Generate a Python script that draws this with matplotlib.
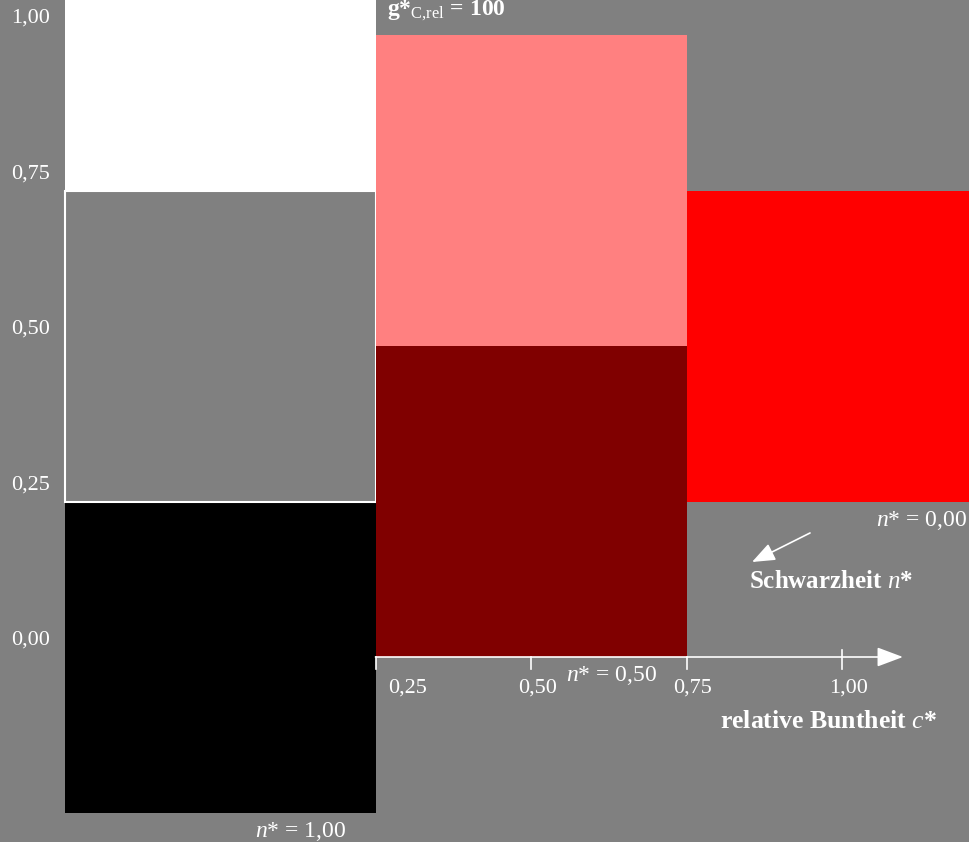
import matplotlib
matplotlib.use("Agg")
import matplotlib.pyplot as plt
from matplotlib.patches import Rectangle

plt.rcParams['font.family'] = ['Liberation Serif', 'DejaVu Serif']
plt.rcParams['mathtext.fontset'] = 'custom'
plt.rcParams['mathtext.rm'] = 'Liberation Serif'
plt.rcParams['mathtext.it'] = 'Liberation Serif:italic'
plt.rcParams['mathtext.bf'] = 'Liberation Serif:bold'

BG = '#808080'

# data: colour patches (chroma centre, bottom, top, colour)
patch_c = [0.0, 0.0, 0.0, 0.5, 0.5, 1.0]
patch_y0 = [-0.25, 0.25, 0.75, 0.0, 0.5, 0.25]
patch_y1 = [0.25, 0.75, 1.25, 0.5, 1.0, 0.75]
patch_col = ['#000000', '#808080', '#ffffff', '#800000', '#ff8080', '#ff0000']
patch_w = 0.5

x_ticks = [0.25, 0.50, 0.75, 1.00]
x_tick_labels = ['0,25', '0,50', '0,75', '1,00']
y_ticks = [1.00, 0.75, 0.50, 0.25, 0.00]
y_tick_labels = ['1,00', '0,75', '0,50', '0,25', '0,00']

W, H = 969, 842
fig = plt.figure(figsize=(W / 100, H / 100), dpi=100, facecolor=BG)
ax = fig.add_axes([0, 0, 1, 1])
ax.set_facecolor(BG)
px = 622.0
ax.set_xlim(-220 / px, (W - 220) / px)
ax.set_ylim((657 - H) / px, 657 / px)
ax.axis('off')

for c, y0, y1, col in zip(patch_c, patch_y0, patch_y1, patch_col):
    ec = 'white' if col == '#808080' else 'none'
    ax.add_patch(Rectangle((c - patch_w / 2, y0), patch_w, y1 - y0,
                           facecolor=col, edgecolor=ec, lw=1.5, zorder=2))

fs_tick = 16
fs_lab = 17
fs_bold = 18.5
# x axis with arrow
ax.annotate('', xy=(1.098, 0), xytext=(0.25, 0),
            arrowprops=dict(arrowstyle='-|>,head_length=1.6,head_width=0.6',
                            color='white', lw=1.2, shrinkA=0, shrinkB=0),
            zorder=5)
for t in x_ticks:
    top = 0.0113 if t == 1.0 else 0.0
    ax.plot([t, t], [top, -0.019], color='white', lw=1.2, zorder=5)

x_lab_off = [0.052, 0.011, 0.0105, 0.011]
for t, lab, o in zip(x_ticks, x_tick_labels, x_lab_off):
    ax.text(t + o, -0.0498, lab, color='white', fontsize=fs_tick, ha='center', va='center', zorder=6)

for t, lab in zip(y_ticks, y_tick_labels):
    ax.text(-0.305, t + 0.027, lab, color='white', fontsize=fs_tick, ha='center', va='center', zorder=6)

ax.text(0.268, 1.038, r'$\mathbf{g}$*$_{\mathrm{C{,}rel}}$ = 100', color='white', fontsize=fs_lab,
        fontweight='bold', ha='left', va='center', zorder=6)
ax.text(0.6295, -0.029, r'$n$* = 0,50', color='white', fontsize=fs_lab, ha='center', va='center', zorder=6)
ax.text(1.201, 0.2187, r'$n$* = 0,00', color='white', fontsize=fs_lab, ha='right', va='center', zorder=6)
ax.text(0.130, -0.281, r'$n$* = 1,00', color='white', fontsize=fs_lab, ha='center', va='center', zorder=6)
ax.text(0.979, -0.1045, r'relative Buntheit $\mathbf{\mathit{c}}$*', color='white', fontsize=fs_bold,
        fontweight='bold', ha='center', va='center', zorder=6)
ax.text(0.850, 0.1206, r'Schwarzheit $\mathbf{\mathit{n}}$*', color='white', fontsize=18,
        fontweight='bold', ha='left', va='center', zorder=6)
ax.annotate('', xy=(0.8553, 0.1527), xytext=(0.9486, 0.1994),
            arrowprops=dict(arrowstyle='-|>,head_length=1.4,head_width=0.55',
                            color='white', lw=1.2, shrinkA=0, shrinkB=0), zorder=6)

fig.savefig('out.png', dpi=100, facecolor=BG)
